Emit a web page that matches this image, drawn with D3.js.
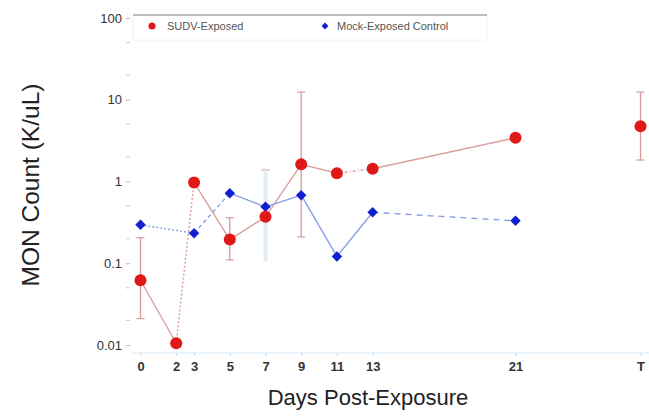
<!DOCTYPE html>
<html>
<head>
<meta charset="utf-8">
<script src="https://cdn.jsdelivr.net/npm/d3@7"></script>
<style>
body { margin: 0; background: #fff; }
text { font-family: "Liberation Sans", Arial, sans-serif; }
</style>
</head>
<body>
<svg id="chart" width="649" height="416"></svg>
<script>
// day labels, T = terminal (placed at day 28)
var dayLabels = ["0", "2", "3", "5", "7", "9", "11", "13", "21", "T"];
var dayPos = [0, 2, 3, 5, 7, 9, 11, 13, 21, 28];

// SUDV-exposed group
var sudvDays = [0, 2, 3, 5, 7, 9, 11, 13, 21, 28];
var sudvVals = [0.062, 0.0105, 0.97, 0.195, 0.37, 1.62, 1.26, 1.43, 3.42, 4.75];
var sudvLow = [0.021, null, null, 0.11, null, 0.21, null, null, null, 1.83];
var sudvHigh = [0.205, null, null, 0.36, 1.38, 12.4, null, null, null, 12.4];

// mock-exposed control group
var mockDays = [0, 3, 5, 7, 9, 11, 13, 21];
var mockVals = [0.295, 0.233, 0.72, 0.49, 0.68, 0.121, 0.42, 0.33];
var mockLow = [null, null, null, 0.105, null, null, null, null];
var mockHigh = [null, null, null, 1.38, null, null, null, null];

var yTicks = [0.01, 0.1, 1, 10, 100];
var yTickLabels = ["0.01", "0.1", "1", "10", "100"];

// line style of each segment (i -> i+1)
var sudvDash = ["", "2,2", "", "", "", "", "3,2,1,2", "", null];
var mockDash = ["2,2", "4,3", "", "", "", "", "6,5"];

var svg = d3.select("#chart");

var x = d3.scaleLinear()
    .domain([0, 28])
    .range([140.5, 640.5]);

var y = d3.scaleLog()
    .domain([0.01, 100])
    .range([345, 18]);

// x axis line
svg.append("line")
    .attr("x1", 133).attr("x2", 649)
    .attr("y1", 353).attr("y2", 353)
    .attr("stroke", "#e3eef8")
    .attr("stroke-width", 1.5);

var xAxis = d3.axisBottom(x)
    .tickValues(dayPos)
    .tickFormat(function(d, i) { return dayLabels[i]; })
    .tickSize(3)
    .tickPadding(6);

var gx = svg.append("g")
    .attr("transform", "translate(0,353)")
    .call(xAxis);
gx.select(".domain").remove();
gx.selectAll(".tick line").attr("stroke", "#c8d4e0");
gx.selectAll(".tick text")
    .attr("fill", "#333")
    .attr("font-size", 13)
    .attr("font-weight", "bold");

// y axis ticks
var minor = [];
for (var e = -2; e < 2; e++) {
    minor.push(2 * Math.pow(10, e));
    minor.push(5 * Math.pow(10, e));
}
svg.selectAll(".minor")
    .data(minor)
    .enter()
    .append("line")
    .attr("class", "minor")
    .attr("x1", 126).attr("x2", 130)
    .attr("y1", function(d) { return y(d); })
    .attr("y2", function(d) { return y(d); })
    .attr("stroke", "#ccc");

var yAxis = d3.axisLeft(y)
    .tickValues(yTicks)
    .tickFormat(function(d, i) { return yTickLabels[i]; })
    .tickSize(4)
    .tickPadding(4);

var gy = svg.append("g")
    .attr("transform", "translate(130,0)")
    .call(yAxis);
gy.select(".domain").remove();
gy.selectAll(".tick line").attr("stroke", "#bbb");
gy.selectAll(".tick text")
    .attr("fill", "#333")
    .attr("font-size", 13);

// axis titles
svg.append("text")
    .attr("x", 368).attr("y", 405)
    .attr("text-anchor", "middle")
    .attr("font-size", 22)
    .attr("fill", "#222")
    .text("Days Post-Exposure");

svg.append("text")
    .attr("transform", "translate(39,185) rotate(-90)")
    .attr("text-anchor", "middle")
    .attr("font-size", 24.5)
    .attr("fill", "#222")
    .text("MON Count (K/uL)");

// error bars
var drawErrors = function(days, low, high, vals, color, width, cap)
{
    days.forEach(function(d, i) {
        if (low[i] == null && high[i] == null) return;
        var lo = low[i] == null ? vals[i] : low[i];
        var hi = high[i] == null ? vals[i] : high[i];
        svg.append("line")
            .attr("x1", x(d)).attr("x2", x(d))
            .attr("y1", y(lo)).attr("y2", y(hi))
            .attr("stroke", color)
            .attr("stroke-width", width);
        [lo, hi].forEach(function(v) {
            if (v == vals[i] || cap == 0) return;
            svg.append("line")
                .attr("x1", x(d) - cap).attr("x2", x(d) + cap)
                .attr("y1", y(v)).attr("y2", y(v))
                .attr("stroke", color)
                .attr("stroke-width", 1.2);
        });
    });
}
drawErrors(sudvDays, sudvLow, sudvHigh, sudvVals, "#d79a9a", 1.3, 4);
drawErrors(mockDays, mockLow, mockHigh, mockVals, "#e2edf7", 4, 0);

// connecting segments
var drawSegments = function(days, vals, dashes, color)
{
    for (var i = 0; i < days.length - 1; i++) {
        if (dashes[i] == null) continue;
        svg.append("line")
            .attr("x1", x(days[i])).attr("y1", y(vals[i]))
            .attr("x2", x(days[i + 1])).attr("y2", y(vals[i + 1]))
            .attr("stroke", color)
            .attr("stroke-width", 1.4)
            .attr("stroke-dasharray", dashes[i]);
    }
}
drawSegments(sudvDays, sudvVals, sudvDash, "#d9a0a0");
drawSegments(mockDays, mockVals, mockDash, "#8c9ee8");

// markers
svg.selectAll(".mock")
    .data(mockDays)
    .enter()
    .append("path")
    .attr("class", "mock")
    .attr("d", d3.symbol().type(d3.symbolDiamond2).size(70))
    .attr("transform", function(d, i) {
        return "translate(" + x(d) + "," + y(mockVals[i]) + ")";
    })
    .attr("fill", "#1020d0");

svg.selectAll(".sudv")
    .data(sudvDays)
    .enter()
    .append("circle")
    .attr("class", "sudv")
    .attr("cx", function(d) { return x(d); })
    .attr("cy", function(d, i) { return y(sudvVals[i]); })
    .attr("r", 6)
    .attr("fill", "#e01818");

// legend
var legend = svg.append("g");
legend.append("rect")
    .attr("x", 133).attr("y", 15)
    .attr("width", 354).attr("height", 25)
    .attr("fill", "none")
    .attr("stroke", "#eef3f8");
legend.append("line")
    .attr("x1", 133).attr("x2", 487)
    .attr("y1", 15).attr("y2", 15)
    .attr("stroke", "#aaa")
    .attr("stroke-width", 1.5);
legend.append("circle")
    .attr("cx", 152).attr("cy", 26)
    .attr("r", 3.5)
    .attr("fill", "#e01818");
legend.append("text")
    .attr("x", 167).attr("y", 30)
    .attr("font-size", 11)
    .attr("fill", "#555")
    .text("SUDV-Exposed");
legend.append("path")
    .attr("d", d3.symbol().type(d3.symbolDiamond2).size(30))
    .attr("transform", "translate(325,26)")
    .attr("fill", "#1020d0");
legend.append("text")
    .attr("x", 337).attr("y", 30)
    .attr("font-size", 11)
    .attr("fill", "#555")
    .text("Mock-Exposed Control");
</script>
</body>
</html>
